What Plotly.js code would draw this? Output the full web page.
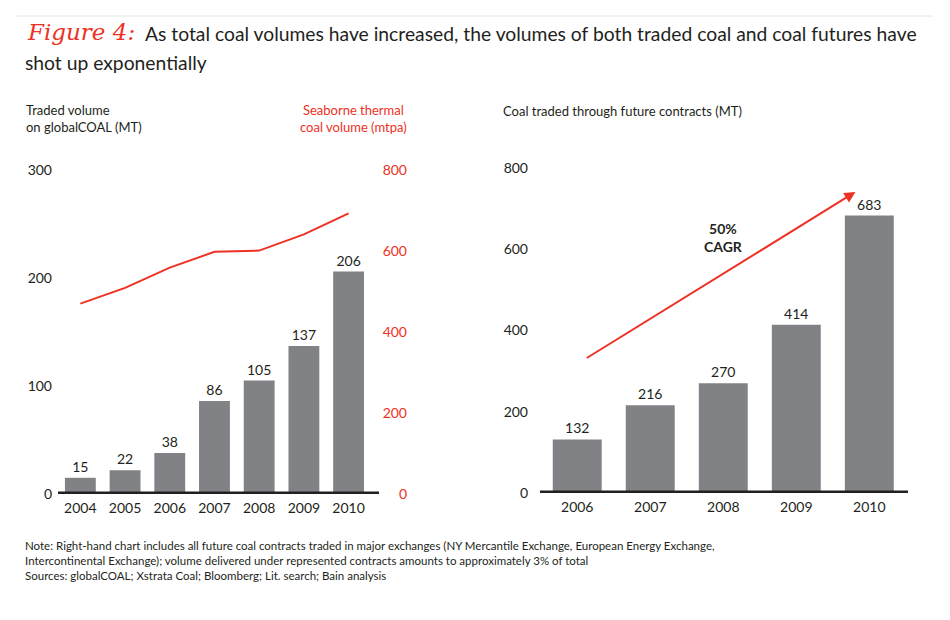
<!DOCTYPE html>
<html>
<head>
<meta charset="utf-8">
<script src="https://cdn.plot.ly/plotly-3.0.1.min.js"></script>
<style>
  html, body { margin: 0; padding: 0; background: #fff; }
  #chart { width: 950px; height: 620px; }
</style>
</head>
<body>
<div id="chart"></div>
<script>
// Figure 4: coal traded volumes vs seaborne thermal coal, and coal futures

// left chart
const tradedYears = ['2004', '2005', '2006', '2007', '2008', '2009', '2010'];
const tradedVolume = [15, 22, 38, 86, 105, 137, 206];      // globalCOAL (MT)
const seaborneVolume = [470, 509, 559, 598, 601, 641, 693]; // mtpa

// right chart
const futureYears = ['2006', '2007', '2008', '2009', '2010'];
const futureVolume = [132, 216, 270, 414, 683];              // MT

const leftTicks = [0, 100, 200, 300];
const redTicks = [0, 200, 400, 600, 800];
const rightTicks = [0, 200, 400, 600, 800];

const FONT = 'Lato, "Noto Sans", sans-serif';
const INK = '#231f20';
const GREY = '#818286';
const RED = '#ee3124';

// pixel -> paper helpers (page is 950 x 620)
const px = (x) => x / 950;
const py = (y) => 1 - y / 620;

const traces = [
    {
        type: 'bar',
        x: tradedYears,
        y: tradedVolume,
        xaxis: 'x',
        yaxis: 'y',
        marker: { color: GREY },
        width: 0.69,
        text: tradedVolume.map(String),
        textposition: 'outside',
        cliponaxis: false,
        textfont: { family: FONT, size: 14, color: INK },
        hoverinfo: 'x+y'
    },
    {
        type: 'scatter',
        mode: 'lines',
        x: tradedYears,
        y: seaborneVolume,
        xaxis: 'x',
        yaxis: 'y2',
        line: { color: RED, width: 2 },
        hoverinfo: 'x+y'
    },
    {
        type: 'bar',
        x: futureYears,
        y: futureVolume,
        xaxis: 'x3',
        yaxis: 'y3',
        marker: { color: GREY },
        width: 0.67,
        text: futureVolume.map(String),
        textposition: 'outside',
        cliponaxis: false,
        textfont: { family: FONT, size: 14, color: INK },
        hoverinfo: 'x+y'
    }
];

const catAxis = {
    type: 'category',
    showgrid: false,
    zeroline: false,
    showline: false,
    ticks: '',
    tickfont: { family: FONT, size: 14, color: INK },
    fixedrange: true
};

const valAxis = {
    showgrid: false,
    zeroline: false,
    showline: false,
    ticks: '',
    tickmode: 'array',
    tickfont: { family: FONT, size: 14, color: INK },
    fixedrange: true
};

const layout = {
    width: 950,
    height: 620,
    margin: { l: 0, r: 0, t: 0, b: 0 },
    paper_bgcolor: '#ffffff',
    plot_bgcolor: 'rgba(0,0,0,0)',
    showlegend: false,
    font: { family: FONT, color: INK },

    xaxis: Object.assign({}, catAxis, {
        domain: [px(58), px(379)],
        range: [-0.5, 6.68],
        anchor: 'y',
        ticklabelstandoff: 4
    }),
    yaxis: Object.assign({}, valAxis, {
        domain: [py(494), py(170)],
        range: [0, 300],
        tickvals: leftTicks,
        anchor: 'x',
        ticklabelstandoff: 5
    }),
    yaxis2: Object.assign({}, valAxis, {
        overlaying: 'y',
        side: 'left',
        anchor: 'free',
        position: px(409),
        range: [0, 800],
        tickvals: redTicks,
        tickfont: { family: FONT, size: 14, color: RED },
        ticklabelstandoff: 2
    }),
    xaxis3: Object.assign({}, catAxis, {
        domain: [px(540), px(908)],
        range: [-0.51, 4.53],
        anchor: 'y3',
        ticklabelstandoff: 4
    }),
    yaxis3: Object.assign({}, valAxis, {
        domain: [py(493), py(168)],
        range: [0, 800],
        tickvals: rightTicks,
        anchor: 'x3',
        ticklabelstandoff: 11
    }),

    shapes: [
        // thin rule at the top of the figure
        { type: 'line', xref: 'paper', yref: 'paper', x0: px(17), x1: px(933), y0: py(16), y1: py(16),
          line: { color: '#e4e4e4', width: 1 } },
        // thick baselines
        { type: 'line', xref: 'x domain', yref: 'y', x0: 0, x1: 1, y0: 0, y1: 0,
          line: { color: INK, width: 5 } },
        { type: 'line', xref: 'x3 domain', yref: 'y3', x0: 0, x1: 1, y0: 0, y1: 0,
          line: { color: INK, width: 5 } }
    ],

    annotations: [
        // headline
        { xref: 'paper', yref: 'paper', x: px(25), y: py(32), xanchor: 'left', yanchor: 'middle',
          showarrow: false, text: '<i>Figure 4:</i>',
          font: { family: '"DejaVu Serif", serif', size: 23, color: RED } },
        { xref: 'paper', yref: 'paper', x: px(143), y: py(33), xanchor: 'left', yanchor: 'middle',
          showarrow: false,
          text: 'As total coal volumes have increased, the volumes of both traded coal and coal futures have',
          font: { family: FONT, size: 19.3, color: INK } },
        { xref: 'paper', yref: 'paper', x: px(23), y: py(63), xanchor: 'left', yanchor: 'middle',
          showarrow: false, text: 'shot up exponentially',
          font: { family: FONT, size: 19.3, color: INK } },

        // axis titles
        { xref: 'paper', yref: 'paper', x: px(24), y: py(119), xanchor: 'left', yanchor: 'middle',
          showarrow: false, align: 'left', text: 'Traded volume<br>on globalCOAL (MT)',
          font: { family: FONT, size: 13, color: INK } },
        { xref: 'paper', yref: 'paper', x: px(353), y: py(119), xanchor: 'center', yanchor: 'middle',
          showarrow: false, align: 'center', text: 'Seaborne thermal<br>coal volume (mtpa)',
          font: { family: FONT, size: 13, color: RED } },
        { xref: 'paper', yref: 'paper', x: px(501), y: py(111), xanchor: 'left', yanchor: 'middle',
          showarrow: false, text: 'Coal traded through future contracts (MT)',
          font: { family: FONT, size: 13, color: INK } },

        // CAGR arrow and label
        { xref: 'x3', yref: 'y3', axref: 'x3', ayref: 'y3',
          x: 3.81, y: 741, ax: 0.11, ay: 330,
          showarrow: true, arrowhead: 2, arrowsize: 1.1, arrowwidth: 2, arrowcolor: RED, text: '' },
        { xref: 'x3', yref: 'y3', x: 2, y: 629, xanchor: 'center', yanchor: 'middle',
          showarrow: false, align: 'center', text: '<b>50%<br>CAGR</b>',
          font: { family: FONT, size: 14, color: INK } },

        // notes
        { xref: 'paper', yref: 'paper', x: px(23), y: py(560), xanchor: 'left', yanchor: 'middle',
          showarrow: false, align: 'left',
          text: 'Note: Right-hand chart includes all future coal contracts traded in major exchanges (NY Mercantile Exchange, European Energy Exchange,<br>' +
                'Intercontinental Exchange); volume delivered under represented contracts amounts to approximately 3% of total<br>' +
                'Sources: globalCOAL; Xstrata Coal; Bloomberg; Lit. search; Bain analysis',
          font: { family: FONT, size: 11.5, color: INK } }
    ]
};

Plotly.newPlot('chart', traces, layout, { staticPlot: true, displayModeBar: false });
</script>
</body>
</html>
